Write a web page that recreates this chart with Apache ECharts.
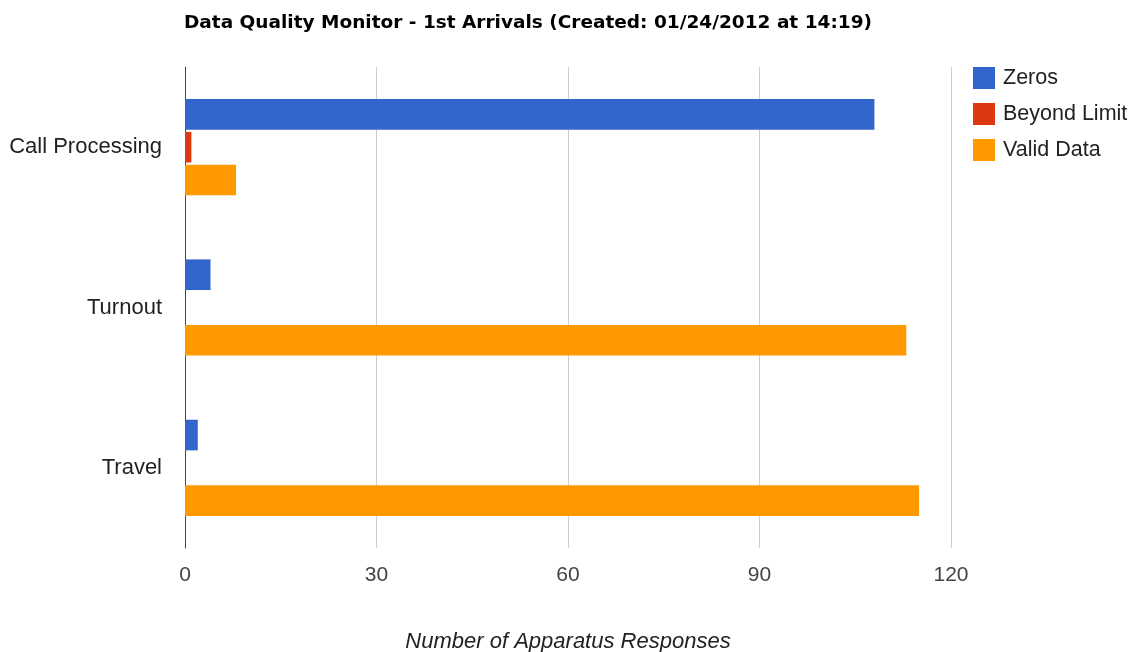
<!DOCTYPE html>
<html>
<head>
<meta charset="utf-8">
<script src="https://cdn.jsdelivr.net/npm/echarts@6/dist/echarts.min.js"></script>
<style>
  html, body { margin: 0; padding: 0; background: #fff; }
  #chart { width: 1137px; height: 652px; }
</style>
</head>
<body>
<div id="chart"></div>
<script>
var categories = ["Call Processing", "Turnout", "Travel"];
var zeros = [108, 4, 2];
var beyondLimit = [1, 0, 0];
var validData = [8, 113, 115];
var xTicks = [0, 30, 60, 90, 120];

var myChart = echarts.init(document.getElementById("chart"));
myChart.setOption({
  animation: false,
  textStyle: { fontFamily: "Arial, 'Liberation Sans', sans-serif" },
  title: {
    text: "Data Quality Monitor - 1st Arrivals (Created: 01/24/2012 at 14:19)",
    left: 184,
    top: 14,
    padding: 0,
    textStyle: { fontSize: 18.5, fontWeight: "bold", color: "#000", fontFamily: "'DejaVu Sans', sans-serif" }
  },
  legend: {
    orient: "vertical",
    left: 973,
    top: 67,
    padding: 0,
    itemWidth: 22,
    itemHeight: 22,
    itemGap: 14,
    icon: "rect",
    textStyle: { fontSize: 21.5, color: "#222", padding: [2, 0, 0, 3] },
    data: ["Zeros", "Beyond Limit", "Valid Data"]
  },
  grid: { left: 185, right: 186, top: 67, bottom: 104, containLabel: false, outerBoundsMode: "none" },
  xAxis: {
    type: "value",
    min: xTicks[0],
    max: xTicks[xTicks.length - 1],
    interval: 30,
    name: "Number of Apparatus Responses",
    nameLocation: "middle",
    nameGap: 83,
    nameTextStyle: { fontSize: 22, fontStyle: "italic", color: "#222" },
    axisLine: { show: false },
    axisTick: { show: false },
    axisLabel: { fontSize: 21, color: "#444", margin: 17 },
    splitLine: { lineStyle: { color: "#cccccc", width: 1 } }
  },
  yAxis: {
    type: "category",
    inverse: true,
    data: categories,
    axisLine: { lineStyle: { color: "#444", width: 1 } },
    axisTick: { show: false },
    axisLabel: { fontSize: 22, color: "#222", margin: 23, padding: [4, 0, 0, 0] }
  },
  series: [
    { name: "Zeros", type: "bar", data: zeros, itemStyle: { color: "#3366cc" }, barGap: "7%", barCategoryGap: "40%" },
    { name: "Beyond Limit", type: "bar", data: beyondLimit, itemStyle: { color: "#dc3912" } },
    { name: "Valid Data", type: "bar", data: validData, itemStyle: { color: "#ff9900" } }
  ]
});
</script>
</body>
</html>
